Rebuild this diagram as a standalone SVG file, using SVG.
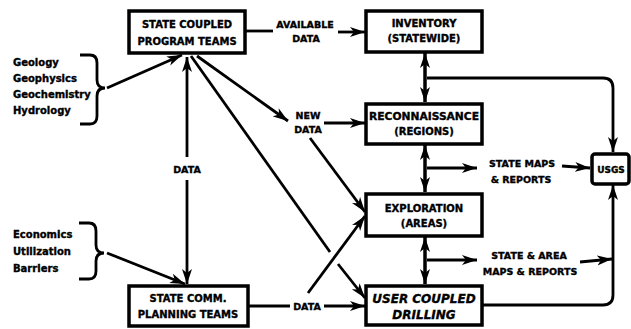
<svg xmlns="http://www.w3.org/2000/svg" width="631" height="329" viewBox="0 0 631 329">
<style>
.box{fill:#fff;stroke:#000;stroke-width:3.5}
.ln{fill:none;stroke:#000;stroke-width:2.8}
.ar{marker-end:url(#ah)}
.da{marker-start:url(#ah);marker-end:url(#ah);stroke-width:3.5}
text{font-family:"DejaVu Sans","Liberation Sans",sans-serif;font-weight:bold;font-size:9.5px;fill:#000;stroke:#000;stroke-width:0.35}
.bt{text-anchor:middle;font-size:10px}
.lab{text-anchor:middle}
.it{font-style:italic;font-size:12px;text-anchor:middle}
.side{font-size:10px}
</style>
<defs>
<marker id="ah" markerUnits="userSpaceOnUse" markerWidth="16" markerHeight="12" refX="15" refY="5" orient="auto-start-reverse" viewBox="0 0 16 10">
<path d="M0,0 L15,5 L0,10 L4,5 z" fill="#000"/>
</marker>
</defs>

<g id="connectors">
<line class="ln ar" x1="107" y1="88" x2="182" y2="55"/>
<line class="ln ar" x1="107" y1="253" x2="185" y2="284"/>
<line class="ln" x1="187" y1="57" x2="187" y2="157" style="marker-start:url(#ah)"/>
<line class="ln ar" x1="187" y1="180" x2="187" y2="284"/>
<line class="ln" x1="245" y1="31" x2="273" y2="31"/>
<line class="ln ar" x1="338" y1="32" x2="365" y2="32"/>
<line class="ln ar" x1="197" y1="56" x2="288" y2="121"/>
<line class="ln ar" x1="324" y1="123" x2="365" y2="123"/>
<line class="ln ar" x1="310" y1="138" x2="365" y2="212"/>
<line class="ln" x1="191" y1="56" x2="330" y2="252"/>
<line class="ln ar" x1="338" y1="264" x2="365" y2="298"/>
<line class="ln" x1="248" y1="306" x2="290" y2="306"/>
<line class="ln ar" x1="324" y1="306" x2="365" y2="306"/>
<line class="ln ar" x1="308" y1="293" x2="365" y2="216"/>
<line class="ln da" x1="425" y1="53" x2="425" y2="102"/>
<line class="ln da" x1="425" y1="145" x2="425" y2="192"/>
<line class="ln da" x1="425" y1="237" x2="425" y2="284"/>
<line class="ln ar" x1="427" y1="168" x2="477" y2="168"/>
<line class="ln ar" x1="427" y1="260" x2="477" y2="260"/>
<line class="ln ar" x1="562" y1="166" x2="590" y2="168"/>
<line class="ln ar" x1="580" y1="262" x2="612" y2="259"/>
<path class="ln ar" d="M427,78 H603 Q613,78 613,88 V152"/>
<path class="ln ar" d="M482,305 H603 Q613,305 613,295 V185"/>
<path class="ln" d="M80,55 H90 Q97,55 97,63 V80 Q97,88 105,88 Q97,88 97,96 V116 Q97,124 90,124 H80"/>
<path class="ln" d="M79,223 H89 Q96,223 96,231 V245 Q96,253 104,253 Q96,253 96,261 V271 Q96,279 89,279 H79"/>
</g>

<g id="scpt">
<rect class="box" x="129" y="11" width="116" height="42"/>
<text class="bt" x="187" y="28">STATE COUPLED</text>
<text class="bt" x="187" y="45">PROGRAM TEAMS</text>
</g>
<g id="scpl">
<rect class="box" x="129" y="286" width="119" height="40"/>
<text class="bt" x="188" y="302">STATE COMM.</text>
<text class="bt" x="188" y="318">PLANNING TEAMS</text>
</g>
<g id="inventory">
<rect class="box" x="366" y="11" width="116" height="41"/>
<text class="bt" x="424" y="27">INVENTORY</text>
<text class="bt" x="424" y="42">(STATEWIDE)</text>
</g>
<g id="recon">
<rect class="box" x="366" y="104" width="116" height="40"/>
<text class="bt" x="424" y="120" textLength="110" lengthAdjust="spacingAndGlyphs">RECONNAISSANCE</text>
<text class="bt" x="424" y="135">(REGIONS)</text>
</g>
<g id="exploration">
<rect class="box" x="366" y="194" width="116" height="42"/>
<text class="bt" x="424" y="212">EXPLORATION</text>
<text class="bt" x="424" y="227">(AREAS)</text>
</g>
<g id="drilling">
<rect class="box" x="366" y="286" width="116" height="39"/>
<text class="it" x="424" y="303">USER  COUPLED</text>
<text class="it" x="424" y="319">DRILLING</text>
</g>
<g id="usgs">
<rect class="box" x="592" y="154" width="37" height="30" rx="3"/>
<text class="bt" x="611" y="173" style="font-size:9px">USGS</text>
</g>

<g id="labels">
<text class="lab" x="305" y="28">AVAILABLE</text>
<text class="lab" x="306" y="42">DATA</text>
<text class="lab" x="308" y="119">NEW</text>
<text class="lab" x="308" y="133">DATA</text>
<text class="lab" x="187" y="173">DATA</text>
<text class="lab" x="307" y="310">DATA</text>
<text class="lab" x="522" y="167">STATE MAPS</text>
<text class="lab" x="521" y="183">&amp; REPORTS</text>
<text class="lab" x="529" y="259">STATE &amp; AREA</text>
<text class="lab" x="530" y="275">MAPS &amp; REPORTS</text>
<text class="side" x="13" y="66">Geology</text>
<text class="side" x="13" y="82">Geophysics</text>
<text class="side" x="13" y="98">Geochemistry</text>
<text class="side" x="13" y="114">Hydrology</text>
<text class="side" x="13" y="238">Economics</text>
<text class="side" x="13" y="255">Utilization</text>
<text class="side" x="13" y="272">Barriers</text>
</g>
</svg>
